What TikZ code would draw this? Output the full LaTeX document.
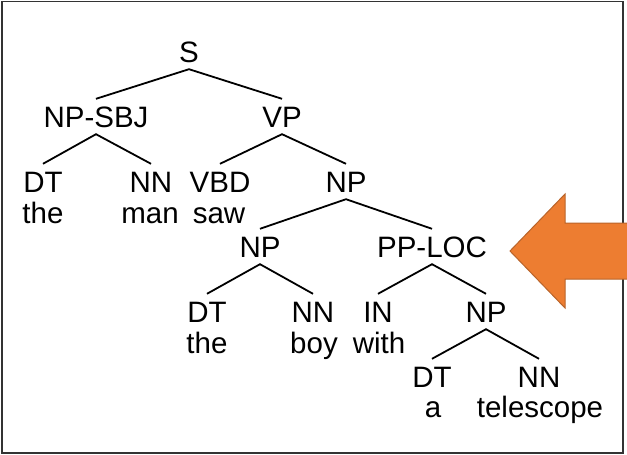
\documentclass[tikz,border=0pt]{standalone}
\usepackage{fontspec}
\setmainfont{Liberation Sans}
\definecolor{arroworange}{HTML}{ED7D31}
\definecolor{arrowedge}{HTML}{B9642A}
\definecolor{framegray}{HTML}{333333}
\begin{document}
\begin{tikzpicture}[x=1pt,y=-1pt,
  lbl/.style={anchor=base,font=\fontsize{29.5}{29.5}\selectfont,inner xsep=0pt,inner ysep=7pt,text height=21pt,text depth=0pt},
  word/.style={anchor=base,font=\fontsize{29.5}{29.5}\selectfont,inner sep=0pt},
  edge/.style={line width=1.8pt,black}]
\useasboundingbox (0,0) rectangle (627,455);
\draw[framegray,line width=1.8pt] (2,1.5) rectangle (623,453);
% labels
\node[lbl] (S) at (189,62) {S};
\node[lbl] (NPSBJ) at (96,127) {NP-SBJ};
\node[lbl] (VP) at (282,127) {VP};
\node[lbl] (DTa) at (43,192) {DT};
\node[lbl] (NNa) at (151,192) {NN};
\node[lbl] (VBD) at (220,192) {VBD};
\node[lbl] (NPa) at (346,192) {NP};
\node[lbl] (NPb) at (260,257) {NP};
\node[lbl] (PPLOC) at (432,257) {PP-LOC};
\node[lbl] (DTb) at (207,322) {DT};
\node[lbl] (NNb) at (313,322) {NN};
\node[lbl] (IN) at (378,322) {IN};
\node[lbl] (NPc) at (486,322) {NP};
\node[lbl] (DTc) at (432,387) {DT};
\node[lbl] (NNc) at (539,387) {NN};
% words
\node[word] (wthe1) at (43,223) {the};
\node[word] (wman) at (150,223) {man};
\node[word] (wsaw) at (219,223) {saw};
\node[word] (wthe2) at (207,353) {the};
\node[word] (wboy) at (314,353) {boy};
\node[word] (wwith) at (379,353) {with};
\node[word] (wa) at (433,417) {a};
\node[word] (wtel) at (540,417) {telescope};
% edges
\draw[edge] (NPSBJ.north) -- (S.south) -- (VP.north);
\draw[edge] (DTa.north) -- (NPSBJ.south) -- (NNa.north);
\draw[edge] (VBD.north) -- (VP.south) -- (NPa.north);
\draw[edge] (NPb.north) -- (NPa.south) -- (PPLOC.north);
\draw[edge] (DTb.north) -- (NPb.south) -- (NNb.north);
\draw[edge] (IN.north) -- (PPLOC.south) -- (NPc.north);
\draw[edge] (DTc.north) -- (NPc.south) -- (NNc.north);
% arrow
\fill[arroworange,draw=arrowedge,line width=1pt]
  (510,251) -- (565,194) -- (565,223) -- (628,223) -- (628,279) -- (565,279) -- (565,308) -- cycle;
\end{tikzpicture}
\end{document}
